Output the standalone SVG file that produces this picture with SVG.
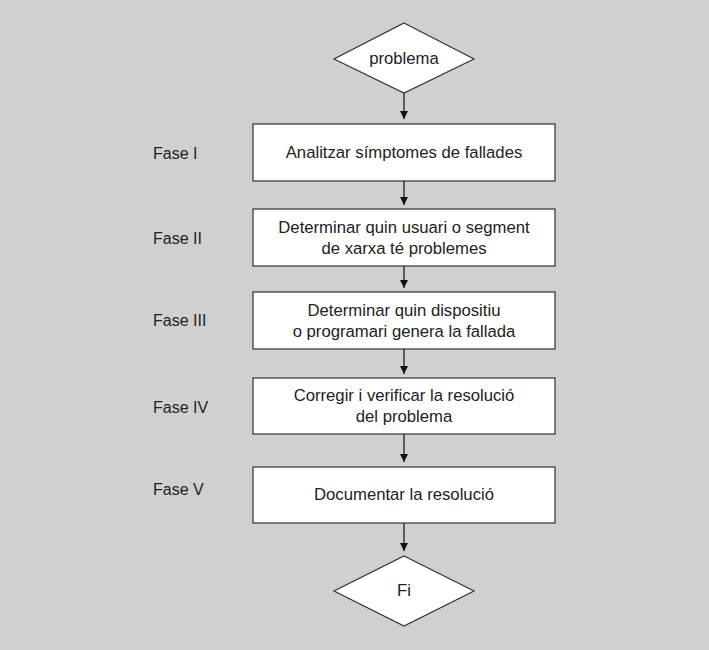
<svg xmlns="http://www.w3.org/2000/svg" width="709" height="650" viewBox="0 0 709 650">
<style>
.n{fill:#fff;stroke:#333;stroke-width:1.2}
.t{font-family:"Liberation Sans",Arial,sans-serif;font-size:16.7px;fill:#222;text-anchor:middle}
.f{font-family:"Liberation Sans",Arial,sans-serif;font-size:16px;fill:#222}
.c{stroke:#111;stroke-width:1.2;fill:none;marker-end:url(#a)}
</style>
<defs><marker id="a" markerWidth="10" markerHeight="10" refX="8" refY="4" orient="auto" markerUnits="userSpaceOnUse"><path d="M0,0 L8,4 L0,8 Z" fill="#111"/></marker></defs>
<rect width="709" height="650" fill="#d0d0d0"/>
<g id="connectors">
<line class="c" x1="404" y1="93" x2="404" y2="119"/>
<line class="c" x1="404" y1="181" x2="404" y2="205"/>
<line class="c" x1="404" y1="266" x2="404" y2="288"/>
<line class="c" x1="404" y1="349" x2="404" y2="374"/>
<line class="c" x1="404" y1="434" x2="404" y2="462"/>
<line class="c" x1="404" y1="523" x2="404" y2="551"/>
</g>
<g id="start"><polygon class="n" points="404,23 474,59 404,93 334,59"/><text class="t" x="404" y="64">problema</text></g>
<g id="fase1"><rect class="n" x="253" y="124" width="302" height="57"/><text class="t" x="404" y="158">Analitzar símptomes de fallades</text></g>
<g id="fase2"><rect class="n" x="253" y="209" width="302" height="57"/><text class="t" x="404" y="233">Determinar quin usuari o segment</text><text class="t" x="404" y="254">de xarxa té problemes</text></g>
<g id="fase3"><rect class="n" x="253" y="292" width="302" height="57"/><text class="t" x="404" y="316">Determinar quin dispositiu</text><text class="t" x="404" y="337">o programari genera la fallada</text></g>
<g id="fase4"><rect class="n" x="253" y="378" width="302" height="56"/><text class="t" x="404" y="401">Corregir i verificar la resolució</text><text class="t" x="404" y="422">del problema</text></g>
<g id="fase5"><rect class="n" x="253" y="467" width="302" height="56"/><text class="t" x="404" y="500">Documentar la resolució</text></g>
<g id="end"><polygon class="n" points="404,556 474,591 404,626 334,591"/><text class="t" x="404" y="596">Fi</text></g>
<g id="labels">
<text class="f" x="153" y="159">Fase I</text>
<text class="f" x="153" y="244">Fase II</text>
<text class="f" x="153" y="326">Fase III</text>
<text class="f" x="153" y="413">Fase IV</text>
<text class="f" x="153" y="495">Fase V</text>
</g>
</svg>
